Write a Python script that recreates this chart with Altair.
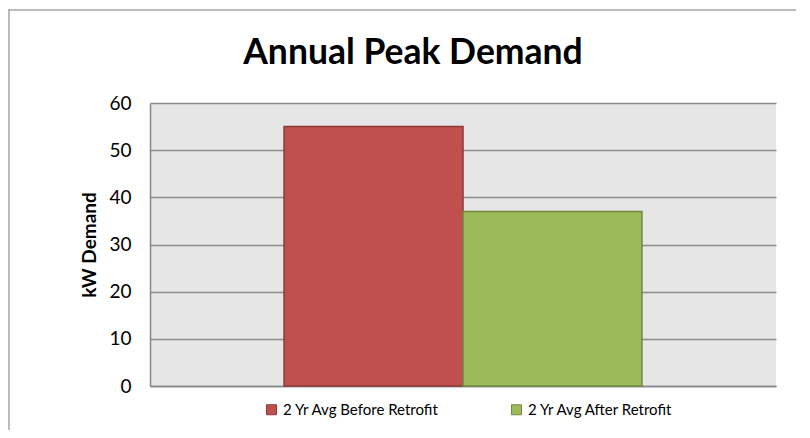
import altair as alt
import pandas as pd

series = ["2 Yr Avg Before Retrofit", "2 Yr Avg After Retrofit"]
values = [55, 37]
fills = ["#C0504D", "#9BBB59"]
strokes = ["#8C3A38", "#71893F"]
y_ticks = [0, 10, 20, 30, 40, 50, 60]
title_text = "Annual Peak Demand"
y_title = "kW Demand"

df = pd.DataFrame({"series": series, "value": values})

FONT = "Lato"

bars = alt.Chart(df).mark_bar(strokeWidth=1.5).encode(
    x=alt.X("series:N", sort=series,
            scale=alt.Scale(paddingInner=0, paddingOuter=0.749),
            axis=alt.Axis(labels=False, ticks=False, title=None, domainColor="#868686",
                          domainWidth=1.5, grid=False)),
    y=alt.Y("value:Q", scale=alt.Scale(domain=[0, 60], nice=False),
            axis=alt.Axis(values=y_ticks, title=y_title, titleFont=FONT, titleFontSize=19,
                          titleFontWeight="bold", titleColor="#000000", titlePadding=9,
                          labelFont=FONT, labelFontSize=19, labelColor="#000000",
                          labelPadding=19, ticks=False, domainColor="#868686",
                          domainWidth=1.5, gridColor="#8c8c8c", gridWidth=1.5)),
    fill=alt.Fill("series:N", sort=series,
                  scale=alt.Scale(domain=series, range=fills),
                  legend=alt.Legend(title=None, orient="none", legendX=114, legendY=299,
                                    direction="horizontal", symbolType="square",
                                    symbolSize=100, symbolStrokeWidth=1,
                                    labelFont=FONT, labelFontSize=15, labelColor="#000000",
                                    labelOffset=4, columnPadding=69, padding=0)),
    stroke=alt.Stroke("series:N", sort=series,
                      scale=alt.Scale(domain=series, range=strokes)),
)

title = alt.Chart(pd.DataFrame({"t": [title_text]})).mark_text(
    font=FONT, fontSize=35.5, fontWeight="bold", color="#000000",
    align="center", baseline="alphabetic"
).encode(text="t:N", x=alt.value(263), y=alt.value(-39))

# decorative chart frame (top and left edges, as in the reference)
frame = alt.Chart(pd.DataFrame({"a": [0]})).mark_rule(
    color="#a6a6a6", strokeWidth=1.5
)
border_top = frame.encode(x=alt.value(-142), x2=alt.value(646), y=alt.value(-93))
border_left = frame.encode(x=alt.value(-141), y=alt.value(-93), y2=alt.value(330))

chart = alt.layer(bars, title, border_top, border_left).properties(
    width=626, height=283,
    autosize=alt.AutoSizeParams(type="none"),
    padding={"left": 142, "top": 95, "right": 26, "bottom": 44},
).configure_view(fill="#e6e6e6", stroke=None)

chart.save("out.html", embed_options={"renderer": "svg", "actions": False})
